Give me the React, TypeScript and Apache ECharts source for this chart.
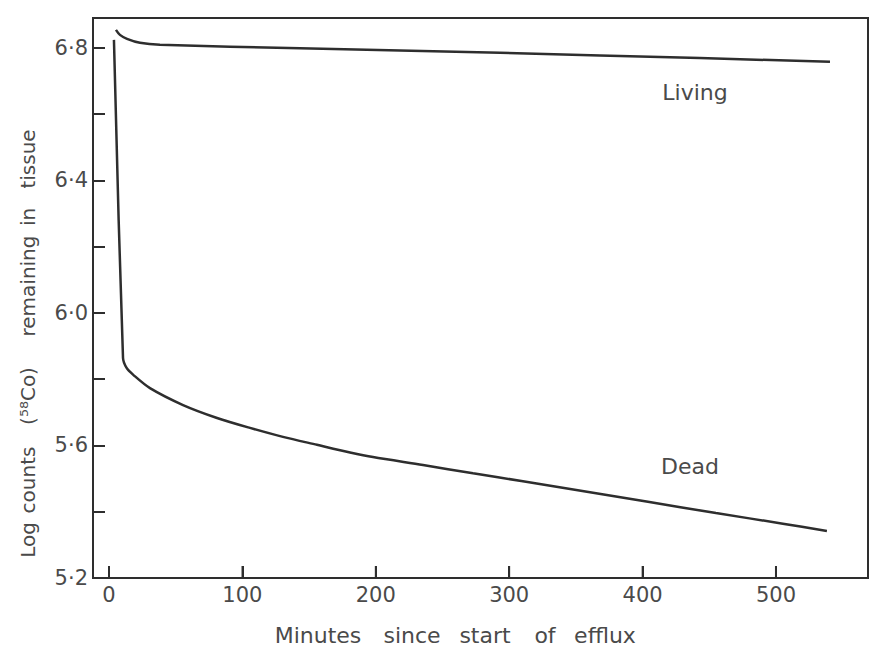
import React, { useEffect, useRef } from "react";
import * as echarts from "echarts";

// Minutes since start of efflux / log counts remaining
const livingX = [5.2, 8.2, 13.5, 23.2, 38.2, 143.2, 293.1, 443.0, 540.5];
const livingY = [6.854, 6.839, 6.827, 6.815, 6.809, 6.799, 6.785, 6.769, 6.758];

const deadX = [3.7, 10.5, 13.2, 18.2, 30.7, 55.5, 81.0, 105.7, 130.4, 155.9, 180.7, 197.9, 235.4, 272.9, 310.3, 360.6, 404.0, 455.0, 505.2, 538.2];
const deadY = [6.824, 5.864, 5.834, 5.813, 5.773, 5.722, 5.683, 5.653, 5.626, 5.602, 5.579, 5.565, 5.541, 5.516, 5.492, 5.459, 5.430, 5.396, 5.364, 5.342];

const xTicks = [0, 100, 200, 300, 400, 500];
const yTicks = [5.2, 5.4, 5.6, 5.8, 6.0, 6.2, 6.4, 6.6, 6.8];
const yLabels = [5.2, 5.6, 6.0, 6.4, 6.8];

const xTitleWords = ["Minutes", "since", "start", "of", "efflux"];
const yTitleWords = ["Log", "counts", "(⁵⁸Co)", "remaining", "in", "tissue"];
const curveNames = ["Living", "Dead"];

const FONT = "DejaVu Sans";
const INK = "#2e2e2e";
const TXT = "#4a4a4a";
const Y_MIN = 5.2;
const Y_MAX = 6.89;

export default function App() {
  const ref = useRef<HTMLDivElement>(null);
  useEffect(() => {
    if (!ref.current) return;
    const chart = echarts.init(ref.current, null, { renderer: "svg" });
    const xWordPos = [318, 412, 485, 545, 605];
    const yWordPos = [540, 480, 396, 286, 217, 159];
    const graphics: any[] = [];
    xTitleWords.forEach((w, i) =>
      graphics.push({
        type: "text",
        x: xWordPos[i],
        y: 635,
        style: { text: w, fill: TXT, font: `22px "${FONT}"`, align: "center", verticalAlign: "middle" },
      })
    );
    yTitleWords.forEach((w, i) =>
      graphics.push({
        type: "text",
        x: 28,
        y: yWordPos[i],
        rotation: Math.PI / 2,
        style: { text: w, fill: TXT, font: `20px "${FONT}"`, align: "center", verticalAlign: "middle" },
      })
    );
    graphics.push({
      type: "text",
      x: 695,
      y: 92,
      style: { text: curveNames[0], fill: TXT, font: `22px "${FONT}"`, align: "center", verticalAlign: "middle" },
    });
    graphics.push({
      type: "text",
      x: 690,
      y: 466,
      style: { text: curveNames[1], fill: TXT, font: `22px "${FONT}"`, align: "center", verticalAlign: "middle" },
    });

    chart.setOption({
      animation: false,
      backgroundColor: "#ffffff",
      grid: {
        left: 93,
        right: 2,
        top: 18,
        bottom: 70,
        show: true,
        borderColor: INK,
        borderWidth: 2,
        backgroundColor: "transparent",
      },
      xAxis: {
        type: "value",
        min: -12,
        max: 569,
        position: "bottom",
        axisLine: { show: true, onZero: false, lineStyle: { color: INK, width: 2 } },
        splitLine: { show: false },
        axisTick: {
          show: true,
          inside: true,
          length: 12,
          customValues: xTicks,
          lineStyle: { color: INK, width: 2 },
        },
        axisLabel: {
          customValues: xTicks,
          margin: 6,
          color: TXT,
          fontFamily: FONT,
          fontSize: 21,
        },
      },
      yAxis: {
        type: "value",
        min: Y_MIN,
        max: Y_MAX,
        position: "left",
        axisLine: { show: true, onZero: false, lineStyle: { color: INK, width: 2 } },
        splitLine: { show: false },
        axisTick: {
          show: true,
          inside: true,
          length: 12,
          customValues: yTicks,
          lineStyle: { color: INK, width: 2 },
        },
        axisLabel: {
          customValues: yLabels,
          margin: 5,
          color: TXT,
          fontFamily: FONT,
          fontSize: 21,
          formatter: (v: number) => v.toFixed(1).replace(".", "·"),
        },
      },
      graphic: graphics,
      series: [
        {
          name: curveNames[0],
          type: "line",
          data: livingX.map((x, i) => [x, livingY[i]]),
          showSymbol: false,
          smooth: 0.3,
          lineStyle: { color: INK, width: 2.5 },
        },
        {
          name: curveNames[1],
          type: "line",
          data: deadX.map((x, i) => [x, deadY[i]]),
          showSymbol: false,
          smooth: 0.3,
          lineStyle: { color: INK, width: 2.5 },
        },
        {
          name: "xTicks",
          type: "scatter",
          clip: false,
          silent: true,
          z: 10,
          data: xTicks.map((v) => [v, Y_MIN]),
          symbol: "rect",
          symbolSize: [2, 12],
          symbolOffset: [0, -6],
          itemStyle: { color: INK },
        },
      ],
    });

    return () => chart.dispose();
  }, []);
  return <div ref={ref} style={{ position: "fixed", left: 0, top: 0, width: 870, height: 648 }} />;
}
